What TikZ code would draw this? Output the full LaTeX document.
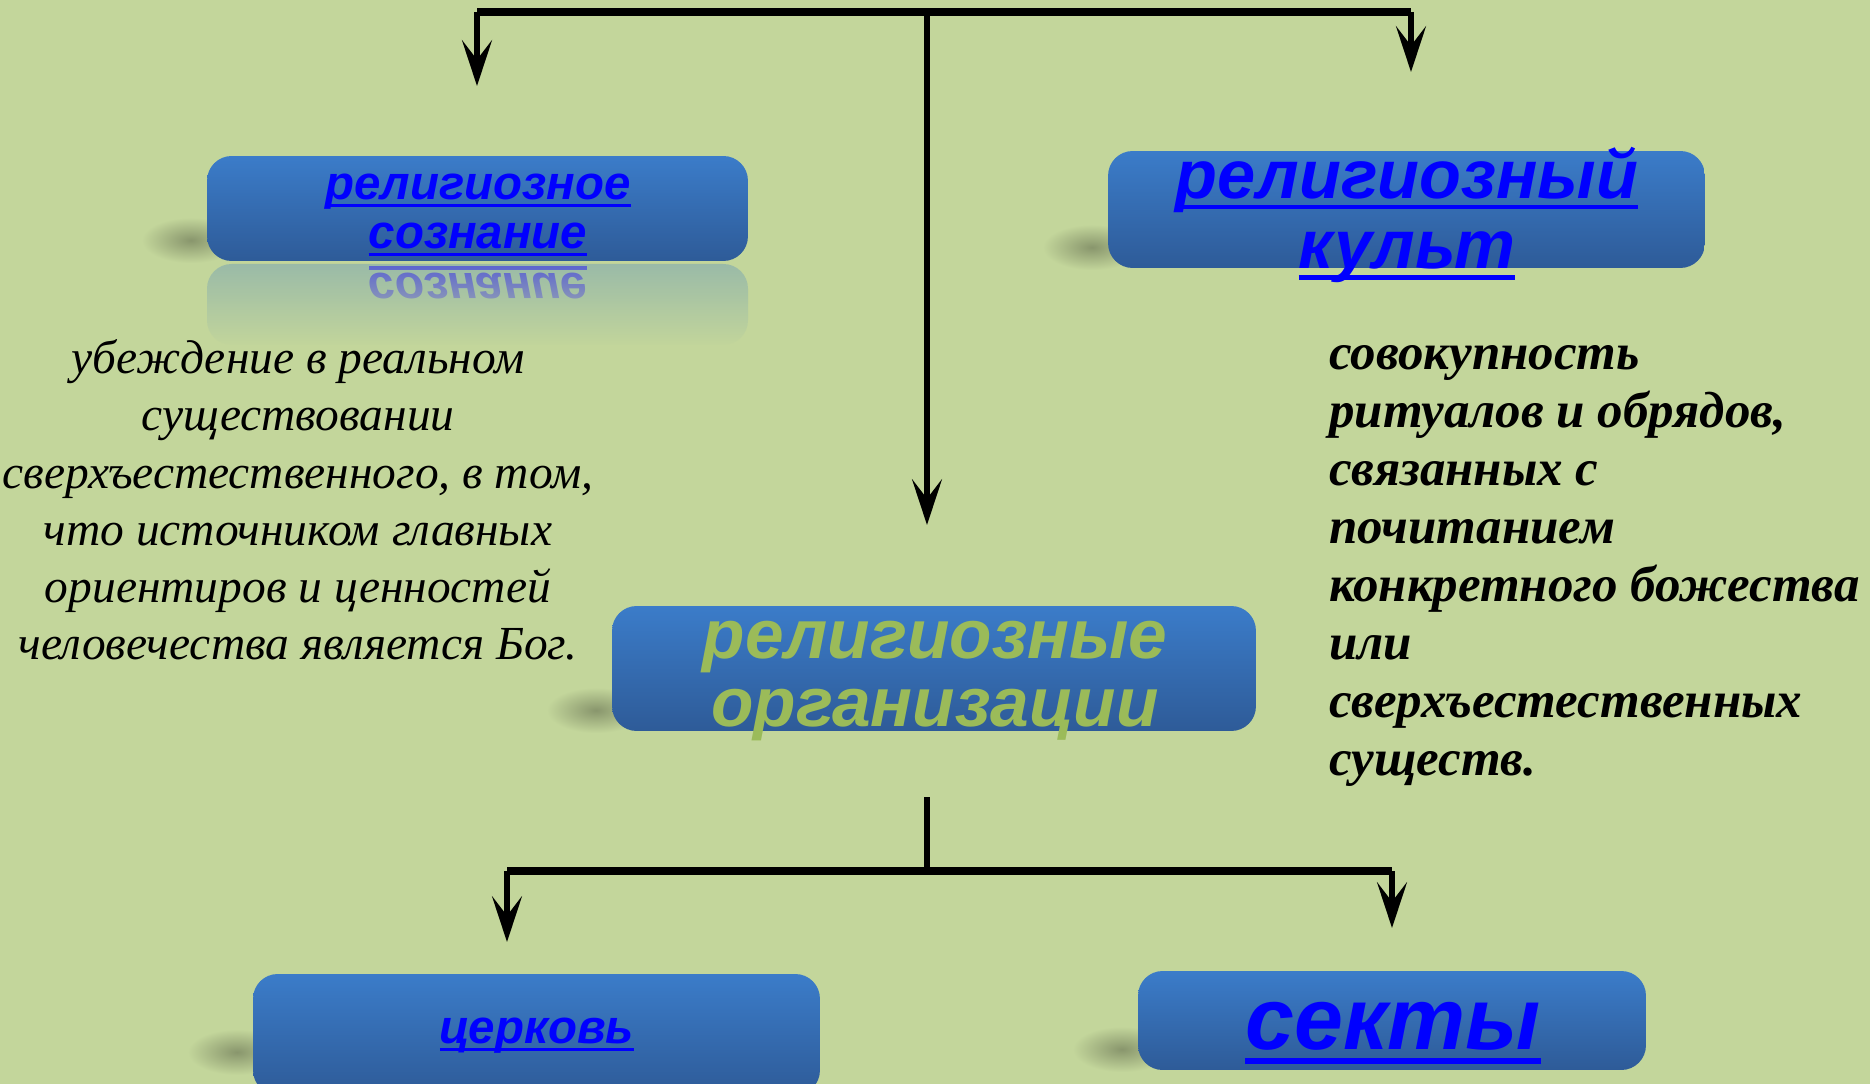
\documentclass[tikz,border=0pt]{standalone}
\usepackage{fontspec}
\setmainfont{Liberation Serif}
\newfontfamily\boxfont{Liberation Sans}
\usetikzlibrary{arrows.meta,fadings}

\definecolor{slidebg}{HTML}{C3D69B}
\definecolor{boxtop}{HTML}{3B7CC9}
\definecolor{boxbot}{HTML}{2E5B98}
\definecolor{linkblue}{HTML}{0000FF}
\definecolor{leafgreen}{HTML}{9BBB59}

\pgfdeclarelayer{backdrop}
\pgfsetlayers{backdrop,main}

\newcommand{\linkline}[1]{\setbox0=\hbox{#1}\rlap{\rule[-0.16em]{\wd0}{0.07em}}\box0}

\tikzset{
  blockbox/.style={rounded corners=14pt, top color=boxtop, bottom color=boxbot, inner sep=0pt},
  boxshadow/.style={inner color=black!30!slidebg, outer color=slidebg},
  linklabel/.style={text=linkblue, align=center, inner sep=0pt},
  desc/.style={inner sep=0pt},
  barline/.style={line width=5pt},
  stemline/.style={line width=3.6pt},
  downarrow/.style={line width=3.6pt, -{Stealth[length=26pt,width=17pt,inset=11pt]}},
}

\begin{document}
\begin{tikzpicture}[x=0.02cm,y=-0.02cm]
	\useasboundingbox (0,0) rectangle (1870,1084);
	\begin{pgfonlayer}{backdrop}
		\fill[slidebg] (0,0) rectangle (1870,1084);
	\end{pgfonlayer}
	%% top row
	\node[blockbox, minimum width=10.82cm, minimum height=2.1cm] (conscious) at (477.5,208.5) {};
	\node[blockbox, minimum width=11.94cm, minimum height=2.34cm] (cult) at (1406.5,209.5) {};
	%% reflection under the first box
	\fill[boxtop, opacity=0.3, rounded corners=14pt] (207,264) rectangle (748,345);
	\node[linklabel, text=linkblue!55!slidebg, font=\boxfont\bfseries\itshape\fontsize{27}{28}\selectfont, anchor=north]
		(conscious-mirror) at (478,266) {\scalebox{1}[-1]{\linkline{сознание}}};
	\fill[slidebg, path fading=north] (195,262) rectangle (760,346);
	\node[linklabel, font=\boxfont\bfseries\itshape\fontsize{27}{28}\selectfont] (conscious-lbl) at (478,215)
		{\linkline{религиозное}\\ \linkline{сознание}};
	\node[linklabel, font=\boxfont\bfseries\itshape\fontsize{39}{40}\selectfont] (cult-lbl) at (1407,215)
		{\linkline{религиозный}\\ \linkline{культ}};
	%% descriptions
	\node[desc, font=\itshape\fontsize{27}{32.6}\selectfont, align=center] (belief) at (298,500)
		{убеждение в реальном\\ существовании\\ сверхъестественного, в том,\\ что источником главных\\ ориентиров и ценностей\\ человечества является Бог.};
	\node[desc, font=\bfseries\itshape\fontsize{29}{33}\selectfont, align=left, anchor=west] (rites) at (1329,566)
		{совокупность\\ ритуалов и обрядов,\\ связанных с\\ почитанием\\ конкретного божества\\ или\\ сверхъестественных\\ существ.};
	%% middle
	\node[blockbox, minimum width=12.88cm, minimum height=2.5cm] (org) at (934,668.5) {};
	\node[linklabel, text=leafgreen, font=\boxfont\bfseries\itshape\fontsize{39.5}{39}\selectfont] (org-lbl) at (935,681)
		{религиозные\\ организации};
	%% bottom row
	\node[blockbox, minimum width=11.34cm, minimum height=2.42cm] (church) at (536.5,1034.5) {};
	\node[blockbox, minimum width=10.16cm, minimum height=1.98cm] (sects) at (1392,1020.5) {};
	\node[linklabel, font=\boxfont\bfseries\itshape\fontsize{27}{28}\selectfont] (church-lbl) at (537,1036)
		{\linkline{церковь}};
	\node[linklabel, font=\boxfont\bfseries\itshape\fontsize{50}{52}\selectfont] (sects-lbl) at (1393,1033)
		{\linkline{секты}};
	%% soft shadows at the lower left of the boxes
	\begin{pgfonlayer}{backdrop}
		\shade[boxshadow] ([xshift=-9pt,yshift=12pt]conscious.south west) ellipse [x radius=28pt, y radius=13pt];
		\shade[boxshadow] ([xshift=-9pt,yshift=12pt]cult.south west) ellipse [x radius=28pt, y radius=13pt];
		\shade[boxshadow] ([xshift=-9pt,yshift=12pt]org.south west) ellipse [x radius=28pt, y radius=13pt];
		\shade[boxshadow] ([xshift=-9pt,yshift=12pt]sects.south west) ellipse [x radius=28pt, y radius=13pt];
		\shade[boxshadow] ([xshift=-9pt,yshift=-10pt]church.west) ellipse [x radius=28pt, y radius=13pt];
	\end{pgfonlayer}
	%% top fork
	\coordinate (top) at (927,12);
	\coordinate (topL) at (477,12);
	\coordinate (topR) at (1411,12);
	\coordinate (tipL) at (477,86);
	\coordinate (tipR) at (1411,72);
	\coordinate (tipC) at (927,525);
	\draw[barline] (topL) -- (topR);
	\draw[downarrow] (topL) -- (tipL);
	\draw[downarrow] (topR) -- (tipR);
	\draw[downarrow] (top) -- (tipC);
	%% bottom fork
	\coordinate (stem) at (927,797);
	\coordinate (fork) at (927,871);
	\coordinate (forkL) at (507,871);
	\coordinate (forkR) at (1392,871);
	\coordinate (tipChurch) at (507,942);
	\coordinate (tipSect) at (1392,928);
	\draw[stemline] (stem) -- (fork);
	\draw[barline] (forkL) -- (forkR);
	\draw[downarrow] (forkL) -- (tipChurch);
	\draw[downarrow] (forkR) -- (tipSect);
\end{tikzpicture}
\end{document}
